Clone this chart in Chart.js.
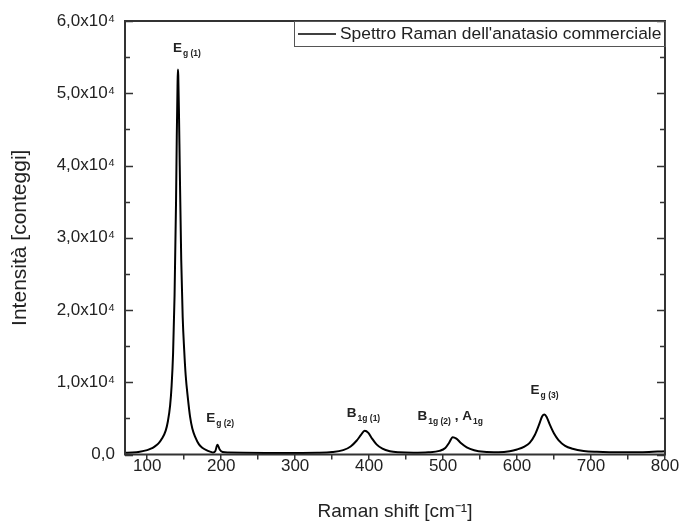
<!DOCTYPE html>
<html>
<head>
<meta charset="utf-8">
<script src="https://cdn.jsdelivr.net/npm/chart.js@4/dist/chart.umd.min.js"></script>
<style>
  html, body { margin: 0; padding: 0; background: #fff; }
  #wrap { width: 682px; height: 527px; }
</style>
</head>
<body>
<div id="wrap"><canvas id="raman" width="682" height="527"></canvas></div>
<script>
// Raman shift [cm-1] and counts
const ramanShift = [
  70, 80, 90, 100, 105, 110, 115, 120, 125, 128, 131, 133, 135, 137, 139, 140, 141, 141.5,
  142, 143, 144, 146, 148, 150, 152, 155, 158, 161, 165, 170, 175, 180, 185, 189, 192, 195,
  198, 202, 210, 230, 260, 300, 330, 350, 365, 375, 383, 389, 394, 399, 404, 410, 418, 428,
  440, 460, 480, 495, 503, 508, 513, 518, 524, 532, 542, 555, 575, 590, 600, 610, 617, 624,
  630, 634, 637, 640, 644, 650, 656, 665, 675, 690, 708, 740, 770, 800
];
const intensity = [
  250, 280, 380, 600, 800, 1100, 1500, 2200, 3300, 4600, 6800, 9500, 14000, 22000, 35000, 44000, 51000, 53300,
  52500, 47000, 40000, 27000, 19000, 14500, 11000, 7800, 5200, 3600, 2400, 1400, 900, 600, 400, 280, 450, 1350,
  700, 350, 280, 240, 220, 220, 240, 330, 600, 1100, 1900, 2700, 3300, 3000, 2200, 1400, 800, 450,
  300, 240, 300, 500, 900, 1600, 2400, 2200, 1600, 1000, 600, 380, 320, 450, 700, 1100, 1600, 2700,
  4200, 5300, 5550, 5200, 4200, 2900, 2000, 1200, 800, 500, 380, 300, 320, 450
];

const xTickValues = [100, 150, 200, 250, 300, 350, 400, 450, 500, 550, 600, 650, 700, 750, 800];
const xTickLabels = [100, 200, 300, 400, 500, 600, 700, 800];
const yTickLabels = ["0,0", "1,0x10⁴", "2,0x10⁴", "3,0x10⁴", "4,0x10⁴", "5,0x10⁴", "6,0x10⁴"];

// peak names: [text, isSubscript]
const peakLabels = [
  { x: 134.8, y: 55700, parts: [["E", 0], ["g (1)", 1]] },
  { x: 179.8, y: 4430, parts: [["E", 0], ["g (2)", 1]] },
  { x: 369.8, y: 5130, parts: [["B", 0], ["1g (1)", 1]] },
  { x: 465.4, y: 4710, parts: [["B", 0], ["1g (2)", 1], [" , ", 0], ["A", 0], ["1g", 1]] },
  { x: 618.3, y: 8310, parts: [["E", 0], ["g (3)", 1]] }
];

const legendText = "Spettro Raman dell'anatasio commerciale";
const FONT = "'Liberation Sans', Arial, sans-serif";
const INK = "#222";

// ========== FRAME, INWARD TICKS, LABELS, LEGEND ==========
const decorations = {
  id: "decorations",
  afterDatasetsDraw(chart) {
    const ctx = chart.ctx;
    const a = chart.chartArea;
    const ys = chart.scales.y;
    ctx.save();

    // box around the plot
    ctx.strokeStyle = "#333";
    ctx.lineWidth = 2;
    ctx.strokeRect(a.left, a.top, a.right - a.left, a.bottom - a.top);

    // y ticks point inward on both sides
    ctx.lineWidth = 1.5;
    ys.ticks.forEach(t => {
      const py = Math.round(ys.getPixelForValue(t.value)) + 0.5;
      const len = t.value % 10000 === 0 ? 8 : 5;
      ctx.beginPath();
      ctx.moveTo(a.left, py); ctx.lineTo(a.left + len, py);
      ctx.moveTo(a.right, py); ctx.lineTo(a.right - len, py);
      ctx.stroke();
    });

    // peak assignments
    ctx.fillStyle = INK;
    ctx.textBaseline = "alphabetic";
    peakLabels.forEach(p => {
      let px = chart.scales.x.getPixelForValue(p.x);
      const py = ys.getPixelForValue(p.y);
      p.parts.forEach(([txt, sub]) => {
        ctx.font = sub ? `bold 8.5px ${FONT}` : `bold 13.5px ${FONT}`;
        ctx.fillText(txt, px + (sub ? 1 : 0), py + (sub ? 4 : 0));
        px += ctx.measureText(txt).width + (sub ? 1 : 0);
      });
    });

    // legend box in the top right corner
    const lw = 371, lh = 25;
    const lx = a.right - lw, ly = a.top;
    ctx.lineWidth = 1;
    ctx.strokeStyle = "#555";
    ctx.strokeRect(lx + 0.5, ly + 0.5, lw, lh);
    ctx.strokeStyle = "#000";
    ctx.lineWidth = 1.5;
    ctx.beginPath();
    ctx.moveTo(lx + 4, ly + 13); ctx.lineTo(lx + 42, ly + 13);
    ctx.stroke();
    ctx.font = `17.4px ${FONT}`;
    ctx.textBaseline = "middle";
    ctx.fillText(legendText, lx + 46, ly + 13.5);

    ctx.restore();
  }
};

new Chart(document.getElementById("raman"), {
  type: "line",
  data: {
    datasets: [{
      label: legendText,
      data: ramanShift.map((x, i) => ({ x, y: intensity[i] })),
      borderColor: "#000",
      borderWidth: 2,
      pointRadius: 0,
      fill: false,
      cubicInterpolationMode: "monotone"
    }]
  },
  options: {
    responsive: false,
    animation: false,
    layout: { padding: { top: 21, right: 17, left: 4, bottom: 0 } },
    plugins: {
      legend: { display: false },
      tooltip: { enabled: false }
    },
    scales: {
      x: {
        type: "linear",
        min: 70,
        max: 800,
        afterBuildTicks: s => { s.ticks = xTickValues.map(v => ({ value: v })); },
        afterFit: s => { s.height = 72.5; },
        ticks: {
          padding: -3,
          color: INK,
          font: { family: FONT, size: 17 },
          maxRotation: 0,
          autoSkip: false,
          callback: v => xTickLabels.includes(v) ? String(v) : ""
        },
        grid: { drawOnChartArea: false, drawTicks: true, tickLength: 5, color: "#333", lineWidth: 1.5 },
        border: { display: false },
        title: {
          display: true,
          text: "Raman shift [cm⁻¹]",
          color: INK,
          font: { family: FONT, size: 19 },
          padding: { top: 8 }
        }
      },
      y: {
        min: 0,
        max: 60000,
        afterFit: s => { s.width = 121; },
        ticks: {
          stepSize: 5000,
          padding: 10,
          color: INK,
          font: { family: FONT, size: 17 },
          autoSkip: false,
          callback: v => v % 10000 === 0 ? yTickLabels[v / 10000] : ""
        },
        grid: { display: false, drawTicks: false },
        border: { display: false },
        title: {
          display: true,
          text: "Intensità [conteggi]",
          color: INK,
          font: { family: FONT, size: 21 },
          padding: { bottom: 6 }
        }
      }
    }
  },
  plugins: [decorations]
});
</script>
</body>
</html>
